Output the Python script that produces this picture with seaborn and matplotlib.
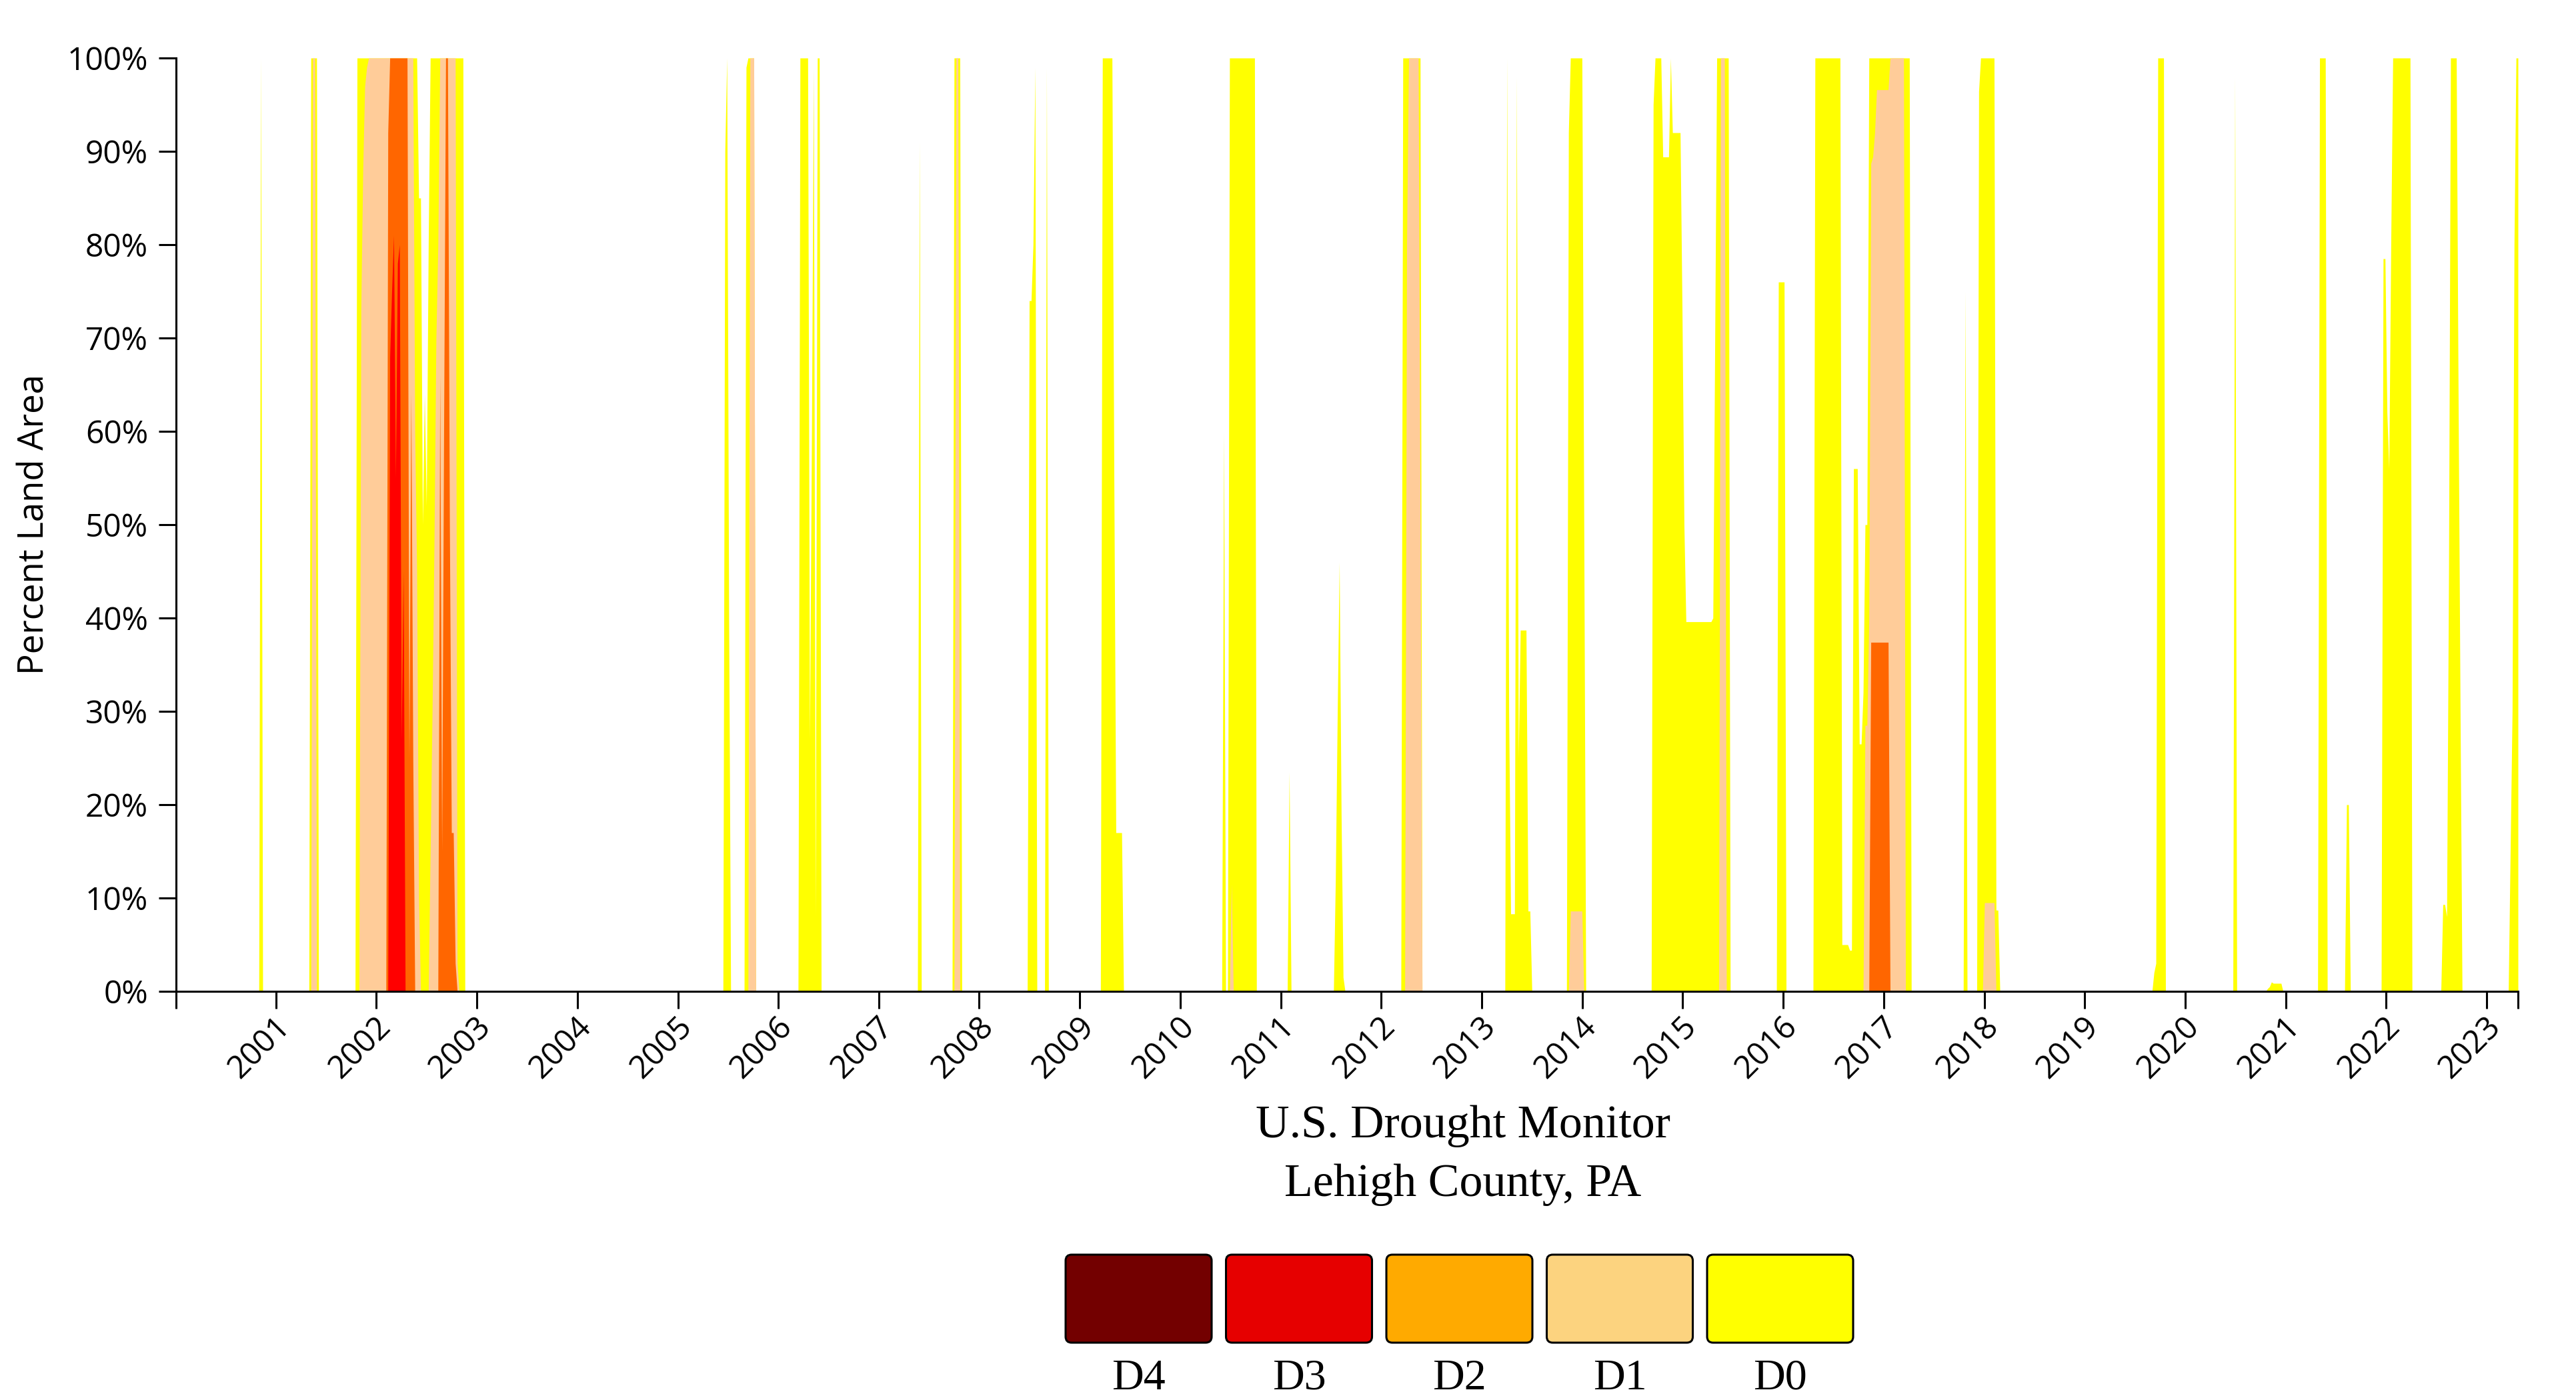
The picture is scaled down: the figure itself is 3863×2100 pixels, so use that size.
import pandas as pd
import matplotlib
matplotlib.use("Agg")
import matplotlib.pyplot as plt
import matplotlib.transforms as mtransforms
from matplotlib.patches import FancyBboxPatch
import seaborn as sns

# Corner points of each cumulative drought layer (weekly USDM, % of county land area)
d0_dates = [
    '2000-01-04',
    '2000-10-31', '2000-11-07', '2000-11-14',
    '2001-05-01', '2001-05-08', '2001-05-29', '2001-06-05',
    '2001-10-16', '2001-10-23', '2002-05-28', '2002-06-04', '2002-06-11', '2002-06-18',
    '2002-06-25', '2002-07-02', '2002-07-09', '2002-07-16', '2002-11-12', '2002-11-19',
    '2005-06-14', '2005-06-21', '2005-06-28', '2005-07-05', '2005-07-12',
    '2005-08-30', '2005-09-06', '2005-09-13', '2005-10-04', '2005-10-11',
    '2006-03-14', '2006-03-21', '2006-04-18', '2006-04-25', '2006-05-02', '2006-05-09',
    '2006-05-16', '2006-05-23', '2006-05-30', '2006-06-06',
    '2007-05-22', '2007-05-29', '2007-06-05',
    '2007-09-25', '2007-10-02', '2007-10-23', '2007-10-30',
    '2008-06-24', '2008-07-01', '2008-07-08', '2008-07-15', '2008-07-22', '2008-07-29',
    '2008-08-26', '2008-09-02', '2008-09-09',
    '2009-03-17', '2009-03-24', '2009-04-28', '2009-05-05', '2009-05-12', '2009-06-02', '2009-06-09',
    '2010-06-01', '2010-06-08', '2010-06-15', '2010-06-22', '2010-06-29', '2010-09-28', '2010-10-05',
    '2011-01-25', '2011-02-01', '2011-02-08',
    '2011-07-12', '2011-07-19', '2011-07-26', '2011-08-02', '2011-08-09', '2011-08-16', '2011-08-23',
    '2012-03-13', '2012-03-20', '2012-05-22', '2012-05-29',
    '2013-03-26', '2013-04-02', '2013-04-09', '2013-04-16', '2013-04-30', '2013-05-07',
    '2013-05-14', '2013-05-21', '2013-06-11', '2013-06-18', '2013-06-25', '2013-07-02',
    '2013-11-05', '2013-11-12', '2013-11-19', '2013-12-31', '2014-01-07', '2014-01-14',
    '2014-09-09', '2014-09-16', '2014-09-23', '2014-10-14', '2014-10-21', '2014-11-11',
    '2014-11-18', '2014-11-25', '2014-12-23', '2014-12-30', '2015-01-06', '2015-01-13',
    '2015-04-14', '2015-04-21', '2015-04-28', '2015-05-05', '2015-06-16', '2015-06-23',
    '2015-12-08', '2015-12-15', '2016-01-05', '2016-01-12',
    '2016-04-19', '2016-04-26', '2016-07-26', '2016-08-02', '2016-08-23', '2016-08-30',
    '2016-09-06', '2016-09-13', '2016-09-27', '2016-10-04', '2016-10-11', '2016-10-18',
    '2016-10-25', '2016-11-01', '2016-11-08', '2017-04-04', '2017-04-11',
    '2017-10-17', '2017-10-24', '2017-10-31',
    '2017-12-05', '2017-12-12', '2017-12-19', '2018-02-06', '2018-02-13', '2018-02-20', '2018-02-27',
    '2019-09-03', '2019-09-10', '2019-09-17', '2019-09-24', '2019-10-15', '2019-10-22',
    '2020-06-23', '2020-06-30', '2020-07-07',
    '2020-10-20', '2020-10-27', '2020-11-03', '2020-11-10', '2020-11-17', '2020-12-15', '2020-12-22',
    '2021-04-27', '2021-05-04', '2021-05-25', '2021-06-01',
    '2021-08-03', '2021-08-10', '2021-08-17', '2021-08-24',
    '2021-12-14', '2021-12-21', '2021-12-28', '2022-01-04', '2022-01-11', '2022-01-18',
    '2022-01-25', '2022-03-29', '2022-04-05',
    '2022-07-19', '2022-07-26', '2022-08-02', '2022-08-09', '2022-08-16', '2022-08-23',
    '2022-09-13', '2022-09-20', '2022-09-27', '2022-10-04',
    '2023-03-21', '2023-03-28', '2023-04-04', '2023-04-11', '2023-04-18', '2023-04-25',
]
d0_pct = [
    0,
    0, 100, 0,
    0, 100, 100, 0,
    0, 100, 100, 85, 85, 50,
    64, 52, 80, 100, 100, 0,
    0, 90, 100, 40, 0,
    0, 99, 100, 100, 0,
    0, 100, 100, 27, 60, 99,
    8, 100, 100, 0,
    0, 91, 0,
    0, 100, 100, 0,
    0, 74, 74, 80, 99, 0,
    0, 99, 0,
    0, 100, 100, 55, 17, 17, 0,
    0, 60, 0, 0, 100, 100, 0,
    0, 23.5, 0,
    0, 12, 30, 46, 19, 1.5, 0,
    0, 100, 100, 0,
    0, 100, 30, 8.3, 8.3, 98,
    25, 38.7, 38.7, 8.6, 8.6, 0,
    0, 92, 100, 100, 50, 0,
    0, 95, 100, 100, 89.4, 89.4,
    100, 92, 92, 73, 50, 39.6,
    39.6, 40, 70, 100, 100, 0,
    0, 76, 76, 0,
    0, 100, 100, 5, 5, 4.4,
    4.4, 56, 56, 26.5, 26.5, 32,
    50, 50, 100, 100, 0,
    0, 75, 0,
    0, 96.4, 100, 100, 8.7, 8.7, 0,
    0, 2, 3, 100, 100, 0,
    0, 98, 0,
    0, 0.3, 0.5, 1.0, 0.86, 0.86, 0,
    0, 100, 100, 0,
    0, 20, 20, 0,
    0, 78.5, 78.5, 62, 56, 80,
    100, 100, 0,
    0, 9.3, 9.3, 8, 45, 100,
    100, 63, 30, 0,
    0, 15, 30, 80, 100, 100,
]

d1_dates = [
    '2000-01-04',
    '2001-05-08', '2001-05-15', '2001-05-22', '2001-05-29',
    '2001-10-30', '2001-11-06', '2001-11-13', '2001-11-20', '2001-11-27', '2001-12-04',
    '2002-05-14', '2002-05-21', '2002-05-28', '2002-06-04', '2002-06-11',
    '2002-07-09', '2002-07-16', '2002-07-23', '2002-07-30', '2002-08-06', '2002-08-13',
    '2002-08-20', '2002-10-15', '2002-10-22', '2002-10-29',
    '2005-09-13', '2005-09-20', '2005-10-04', '2005-10-11',
    '2007-10-02', '2007-10-09', '2007-10-16', '2007-10-23',
    '2010-06-29', '2010-07-06', '2010-07-13',
    '2012-03-27', '2012-04-03', '2012-04-10', '2012-05-15', '2012-05-22', '2012-05-29',
    '2013-11-12', '2013-11-19', '2013-12-31', '2014-01-07',
    '2015-05-12', '2015-05-19', '2015-06-02', '2015-06-09',
    '2016-10-18', '2016-10-25', '2016-11-01', '2016-11-08', '2016-11-15', '2016-11-22',
    '2016-11-29', '2016-12-06', '2017-01-17', '2017-01-24', '2017-03-14', '2017-03-21',
    '2017-12-26', '2018-01-02', '2018-02-06', '2018-02-13',
    '2023-04-25',
]
d1_pct = [
    0,
    0, 100, 100, 0,
    0, 73, 88, 97, 99, 100,
    100, 60, 45, 10, 0,
    0, 15, 30, 48, 70, 80,
    100, 100, 3, 0,
    0, 100, 100, 0,
    0, 100, 100, 0,
    0, 11.5, 0,
    0, 80, 100, 100, 50, 0,
    0, 8.6, 8.6, 0,
    0, 100, 100, 0,
    0, 28.5, 28.5, 40, 88.7, 89.4,
    92, 96.6, 96.6, 100, 100, 0,
    0, 9.5, 9.5, 0,
    0,
]

d2_dates = [
    '2000-01-04',
    '2002-02-05', '2002-02-12', '2002-02-19', '2002-04-23', '2002-04-30', '2002-05-07',
    '2002-05-14', '2002-05-21',
    '2002-08-13', '2002-08-20', '2002-08-27', '2002-09-03', '2002-09-10', '2002-09-17',
    '2002-09-24', '2002-10-01', '2002-10-08', '2002-10-15', '2002-10-22',
    '2016-11-08', '2016-11-15', '2017-01-17', '2017-01-24',
    '2023-04-25',
]
d2_pct = [
    0,
    0, 92, 100, 100, 25, 64,
    25, 0,
    0, 66, 15, 60, 100, 100,
    50, 17, 17, 3, 0,
    0, 37.4, 37.4, 0,
    0,
]

d3_dates = [
    '2000-01-04',
    '2002-02-12', '2002-02-19', '2002-02-26', '2002-03-05', '2002-03-12', '2002-03-19',
    '2002-03-26', '2002-04-02', '2002-04-09', '2002-04-16',
    '2023-04-25',
]
d3_pct = [
    0,
    0, 68, 75, 81, 55, 78,
    80, 27, 45, 0,
    0,
]

d4_dates = ['2000-01-04', '2023-04-25']
d4_pct = [0, 0]

area_colors = ['#FFFF00', '#FFCC99', '#FF6600', '#FF0000', '#660000']   # D0..D4
years = list(range(2001, 2024))
year_labels = [str(y) for y in years]
y_ticks = list(range(0, 101, 10))
y_labels = [f'{v}%' for v in y_ticks]
legend_labels = ['D4', 'D3', 'D2', 'D1', 'D0']
legend_colors = ['#730000', '#E60000', '#FFAA00', '#FCD37F', '#FFFF00']

sns.set_theme(style="ticks")
plt.rcParams['font.family'] = ['Open Sans', 'DejaVu Sans']

W, H = 3863, 2100
fig = plt.figure(figsize=(W / 100, H / 100), dpi=100)
ax = fig.add_axes([264 / W, 1 - 1487 / H, (3776 - 264) / W, (1487 - 87) / H])

layers = [(d0_dates, d0_pct), (d1_dates, d1_pct), (d2_dates, d2_pct),
          (d3_dates, d3_pct), (d4_dates, d4_pct)]
for (dates, pct), col in zip(layers, area_colors):
    assert len(dates) == len(pct)
    ax.fill_between(pd.to_datetime(dates), 0, pct, color=col, linewidth=0)

start, end = pd.Timestamp('2000-01-04'), pd.Timestamp('2023-04-25')
ax.set_xlim(start, end)
ax.set_ylim(0, 100)

sns.despine(ax=ax)
for side in ['left', 'bottom']:
    ax.spines[side].set_color('black')
    ax.spines[side].set_linewidth(2.2)

ax.set_yticks(y_ticks)
ax.set_yticklabels(y_labels)
ax.set_xticks(pd.to_datetime([f'{y}-01-01' for y in years]))
ax.set_xticklabels(year_labels, rotation=45, ha='right', va='center', rotation_mode='anchor')
ax.set_xticks([start, end], minor=True)
ax.tick_params(axis='both', which='both', direction='out', length=18.7, width=2.2,
               color='black', labelsize=34.5, labelcolor='black')
ax.tick_params(axis='x', which='minor', labelbottom=False)
ax.tick_params(axis='x', pad=14)
ax.tick_params(axis='y', pad=11.5)
shift = mtransforms.ScaledTranslation(0.14, 0, fig.dpi_scale_trans)
for lbl in ax.get_xticklabels():
    lbl.set_transform(lbl.get_transform() + shift)
ax.grid(False)

fig.text(66 / W, 1 - 787 / H, 'Percent Land Area', rotation=90, rotation_mode='anchor',
         ha='center', va='baseline', fontsize=38, color='black')

fig.text(2194 / W, 1 - 1706 / H, 'U.S. Drought Monitor', ha='center', va='baseline',
         fontsize=50.4, family='Liberation Serif', color='black')
fig.text(2194 / W, 1 - 1794 / H, 'Lehigh County, PA', ha='center', va='baseline',
         fontsize=50.4, family='Liberation Serif', color='black')

# legend swatches, drawn in pixel space
for k, (lab, col) in enumerate(zip(legend_labels, legend_colors)):
    x0 = 1598 + k * 240.5
    box = FancyBboxPatch((x0, H - 2014), 219, 132,
                         boxstyle='round,pad=0,rounding_size=9',
                         facecolor=col, edgecolor='black', linewidth=2.2,
                         transform=mtransforms.IdentityTransform())
    fig.add_artist(box)
    fig.text((x0 + 109.5) / W, 1 - 2084 / H, lab, ha='center', va='baseline',
             fontsize=47.5, family='Liberation Serif', color='black')

fig.savefig('out.png', dpi=100)
